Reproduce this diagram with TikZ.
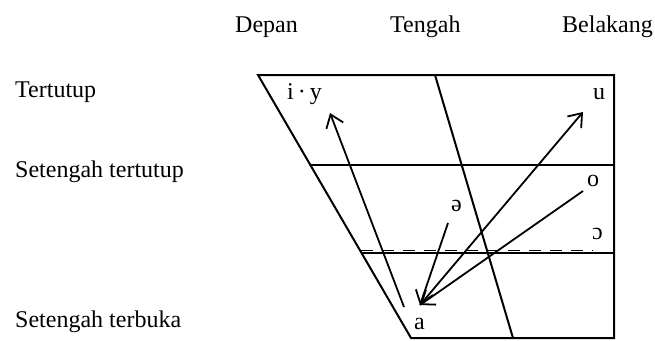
\documentclass[tikz,border=0pt]{standalone}
\usepackage{fontspec}
\setmainfont{Liberation Serif}
\usetikzlibrary{arrows.meta}
\begin{document}
\begin{tikzpicture}[x=1pt,y=-1pt,
  frame/.style={line width=2pt, line join=miter},
  arr/.style={line width=1.8pt, -{Straight Barb[length=12pt,width=18pt,line width=1.8pt]}},
  lbl/.style={anchor=base west, inner sep=0pt, font=\fontsize{24}{28}\selectfont},
  vow/.style={anchor=base west, inner sep=0pt, font=\fontsize{24}{28}\selectfont}]
\useasboundingbox (0,0) rectangle (655,340);
% header labels
\node[lbl] (depan) at (235,32) {Depan};
\node[lbl] (tengah) at (390,32) {Tengah};
\node[lbl] (belakang) at (562,32) {Belakang};
% row labels
\node[lbl] (tertutup) at (15,97) {Tertutup};
\node[lbl] (sttutup) at (15,177) {Setengah tertutup};
\node[lbl] (stbuka) at (15,327) {Setengah terbuka};
% frame corners
\coordinate (TL) at (258,75);
\coordinate (TR) at (614,75);
\coordinate (BR) at (614,338);
\coordinate (BL) at (411,338);
\coordinate (ML) at (310,165);
\coordinate (MR) at (614,165);
\coordinate (LL) at (361,253);
\coordinate (LR) at (614,253);
\coordinate (CT) at (435,75);
\coordinate (CB) at (513,338);
\draw[frame] (TL) -- (TR) -- (BR) -- (BL) -- cycle;
\draw[frame] (ML) -- (MR);
\draw[frame] (LL) -- (LR);
\draw[line width=1.4pt, dash pattern=on 12pt off 9pt] (361,250.5) -- (593,250.5);
\draw[frame] (CT) -- (CB);
% vowels
\node[vow] (iy) at (287,99) {i\,·\,y};
\node[vow] (u) at (593,99) {u};
\node[vow] (o) at (587,186) {o};
\node[vow] (schwa) at (451,211) {ə};
\node[vow] (openo) at (592,239) {ɔ};
\node[vow] (a) at (414,329) {a};
% arrow endpoints
\coordinate (aStart) at (404,307);
\coordinate (iTip) at (330,113);
\coordinate (aTip) at (420,305);
\coordinate (uTip) at (583,112);
\coordinate (schwaStart) at (448,223);
\coordinate (oStart) at (583,191);
\draw[arr] (aStart) -- (iTip);
\draw[arr] (aTip) -- (uTip);
\draw[arr] (schwaStart) -- (aTip);
\draw[arr] (oStart) -- (aTip);
\end{tikzpicture}
\end{document}
